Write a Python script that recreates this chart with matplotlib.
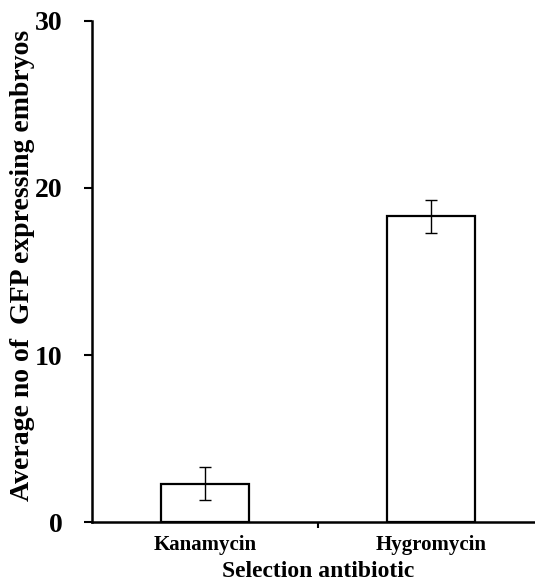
import matplotlib.pyplot as plt
import numpy as np

# Data
antibiotics = ['Kanamycin', 'Hygromycin']
mean_embryos = [2.3, 18.3]
error_embryos = [1.0, 1.0]

plt.rcParams['font.family'] = ['Liberation Serif', 'DejaVu Serif']
plt.rcParams['font.weight'] = 'bold'

fig = plt.figure(figsize=(5.35, 5.82), dpi=100)
ax = fig.add_axes([0.172, 0.103, 0.845, 0.861])

x = np.arange(len(antibiotics))
ax.bar(x, mean_embryos, width=0.39, color='white', edgecolor='black',
       linewidth=1.6, yerr=error_embryos,
       error_kw=dict(ecolor='black', elinewidth=1.0, capsize=4, capthick=1.0))

ax.set_xlim(-0.5, 1.5)
ax.set_ylim(0, 30)
ax.set_yticks([0, 10, 20, 30])

# Category labels between boundary ticks
ax.set_xticks([0.5], [''])
ax.set_xticks(x, antibiotics, minor=True)
ax.tick_params(axis='x', which='major', length=4, width=1.5, direction='out')
ax.tick_params(axis='x', which='minor', length=0, labelsize=15, pad=9)
ax.tick_params(axis='y', length=6, width=1.5, direction='out', labelsize=20, pad=15)

for lab in ax.get_xticklabels(minor=True) + ax.get_yticklabels():
    lab.set_fontweight('bold')

ax.spines['top'].set_visible(False)
ax.spines['right'].set_visible(False)
ax.spines['left'].set_linewidth(1.8)
ax.spines['bottom'].set_linewidth(1.8)

ax.set_xlabel('Selection antibiotic', fontsize=17, fontweight='bold', labelpad=5)
ax.set_ylabel('Average no of  GFP expressing embryos', fontsize=20,
              fontweight='bold')
ax.yaxis.set_label_coords(-0.126, 0.513)

plt.savefig('out.png', dpi=100)
